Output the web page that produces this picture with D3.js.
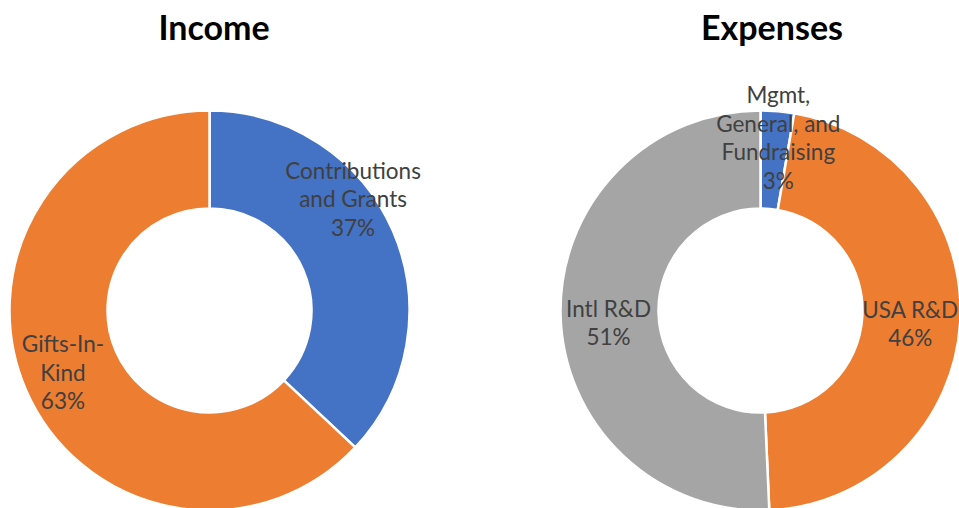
<!DOCTYPE html>
<html><head><meta charset="utf-8">
<script src="https://cdn.jsdelivr.net/npm/d3@7"></script>
<style>html,body{margin:0;padding:0;background:#fff;overflow:hidden}</style>
</head><body>
<svg id="c" width="959" height="508"></svg>
<script>
// Data
const incomeCategories = ["Contributions and Grants", "Gifts-In-Kind"];
const incomeValues = [37, 63];
const incomeLabels = [["Contributions", "and Grants", "37%"], ["Gifts-In-", "Kind", "63%"]];
const expenseCategories = ["Mgmt, General, and Fundraising", "USA R&D", "Intl R&D"];
const expenseValues = [2.7, 46.6, 50.7];
const expenseLabels = [["Mgmt,", "General, and", "Fundraising", "3%"], ["USA R&D", "46%"], ["Intl R&D", "51%"]];
const incomeColors = ["#4472C4", "#ED7D31"];
const expenseColors = ["#4472C4", "#ED7D31", "#A5A5A5"];

// Layout
const FONT = "Lato, 'Open Sans', sans-serif";
const charts = [
  {title: "Income", cx: 209.5, cy: 310.5, tx: 214, cats: incomeCategories, vals: incomeValues, labels: incomeLabels, colors: incomeColors,
   offs: [[5, -72], [-8, -18]]},
  {title: "Expenses", cx: 760.5, cy: 310.5, tx: 772, cats: expenseCategories, vals: expenseValues, labels: expenseLabels, colors: expenseColors,
   offs: [[5, -57], [-1, -2], [-1, 3]]}
];
const outerR = 200, innerR = 102, lineH = 28.5;

const svg = d3.select("#c");
const pie = d3.pie().sort(null).value(d => d).startAngle(0).endAngle(2 * Math.PI);
const arc = d3.arc().innerRadius(innerR).outerRadius(outerR);

charts.forEach(ch => {
  const g = svg.append("g").attr("transform", `translate(${ch.cx},${ch.cy})`);
  const arcs = pie(ch.vals);
  g.selectAll("path").data(arcs).enter().append("path")
    .attr("d", arc)
    .attr("fill", (d, i) => ch.colors[i])
    .attr("stroke", "#fff").attr("stroke-width", 2.5).attr("stroke-linejoin", "round");

  arcs.forEach((a, i) => {
    const c = arc.centroid(a);
    const t = g.append("text")
      .attr("text-anchor", "middle")
      .attr("font-family", FONT).attr("font-size", 22.5)
      .attr("fill", "#404040");
    ch.labels[i].forEach((ln, k) => {
      t.append("tspan").attr("x", c[0] + ch.offs[i][0]).attr("y", c[1] + ch.offs[i][1] + k * lineH).text(ln);
    });
  });

  svg.append("text").attr("x", ch.tx).attr("y", 40)
    .attr("text-anchor", "middle").attr("font-family", FONT)
    .attr("font-weight", "bold").attr("font-size", 34).attr("fill", "#000")
    .text(ch.title);
});
</script>
</body></html>
